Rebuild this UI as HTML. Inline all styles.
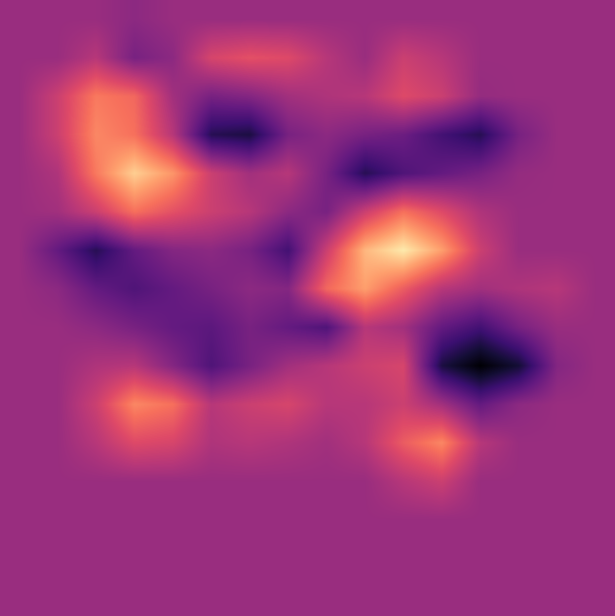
<!DOCTYPE html>
<html><head><meta charset="utf-8"><style>
html,body{margin:0;padding:0;background:#9a2e80;}
canvas{display:block;}
</style></head><body>
<canvas id="heat" width="615" height="616"></canvas>
<script>
// value grid (0-100), rows top->bottom, 16 columns
const B = 43;
const row00 = [B,B,B,40,B,B,B,B,B,B,B,B,B,B,B,B];
const row01 = [B,B,50,35,40,58,62,60,50,B,55,50,B,B,B,B];
const row02 = [B,55,72,68,45,35,38,45,48,50,60,55,42,B,B,B];
const row03 = [B,55,75,70,50,15,12,35,40,35,32,22,15,35,B,B];
const row04 = [B,48,72,90,78,55,45,50,35,15,25,30,35,42,B,B];
const row05 = [B,45,55,70,62,55,50,40,35,55,70,60,48,B,B,B];
const row06 = [B,30,15,30,38,40,35,22,55,85,96,80,55,B,B,B];
const row07 = [B,40,30,25,30,35,40,38,68,80,65,50,45,48,50,B];
const row08 = [B,B,40,35,30,28,35,30,25,50,45,30,22,35,B,B];
const row09 = [B,B,48,50,38,25,35,45,50,55,58,12,0,10,38,B];
const row10 = [B,B,55,75,70,50,55,58,50,50,55,45,30,40,B,B];
const row11 = [B,B,50,60,58,48,50,48,45,50,65,75,50,B,B,B];
const row12 = [B,B,B,B,B,B,B,B,B,B,50,55,B,B,B,B];
const row13 = [B,B,B,B,B,B,B,B,B,B,B,B,B,B,B,B];
const row14 = [B,B,B,B,B,B,B,B,B,B,B,B,B,B,B,B];
const row15 = [B,B,B,B,B,B,B,B,B,B,B,B,B,B,B,B];
const grid = [row00,row01,row02,row03,row04,row05,row06,row07,row08,row09,row10,row11,row12,row13,row14,row15];

const magma = [[0,0,4],[20,14,54],[59,15,112],[100,26,128],[140,41,129],[183,55,121],[222,73,104],[247,112,92],[254,159,109],[254,207,146],[252,253,191]];
function cmap(v){
  v=Math.max(0,Math.min(1,v))*10;
  const i=Math.min(9,Math.floor(v)), f=v-i;
  const a=magma[i], b=magma[i+1];
  return [a[0]+(b[0]-a[0])*f, a[1]+(b[1]-a[1])*f, a[2]+(b[2]-a[2])*f];
}
const cv=document.getElementById('heat');
const ctx=cv.getContext('2d');
const W=cv.width,H=cv.height;
const nr=grid.length,nc=grid[0].length;
const cw=W/nc, ch=H/nr;
const img=ctx.createImageData(W,H);
function g(r,c){r=Math.max(0,Math.min(nr-1,r));c=Math.max(0,Math.min(nc-1,c));return grid[r][c];}
for(let y=0;y<H;y++){
  const gy=(y+0.5)/ch-0.5, r0=Math.floor(gy), fy=gy-r0;
  for(let x=0;x<W;x++){
    const gx=(x+0.5)/cw-0.5, c0=Math.floor(gx), fx=gx-c0;
    const v=(g(r0,c0)*(1-fx)+g(r0,c0+1)*fx)*(1-fy)+(g(r0+1,c0)*(1-fx)+g(r0+1,c0+1)*fx)*fy;
    const col=cmap(v/100);
    const k=(y*W+x)*4;
    img.data[k]=col[0];img.data[k+1]=col[1];img.data[k+2]=col[2];img.data[k+3]=255;
  }
}
ctx.putImageData(img,0,0);
</script>
</body></html>
